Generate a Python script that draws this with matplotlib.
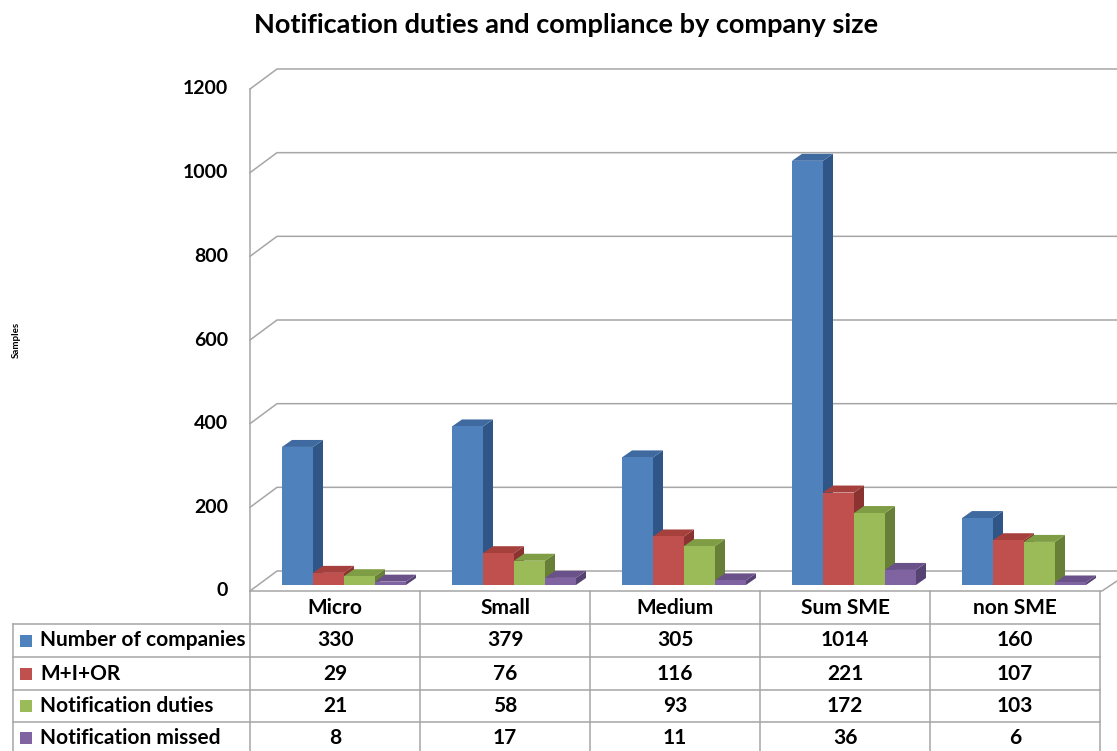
import matplotlib.pyplot as plt
from matplotlib.patches import Polygon, Rectangle

categories = ['Micro', 'Small', 'Medium', 'Sum SME', 'non SME']
series_names = ['Number of companies', 'M+I+OR', 'Notification duties', 'Notification missed']
companies = [330, 379, 305, 1014, 160]
mior = [29, 76, 116, 221, 107]
duties = [21, 58, 93, 172, 103]
missed = [8, 17, 11, 36, 6]
series = [companies, mior, duties, missed]
yticks = [0, 200, 400, 600, 800, 1000, 1200]

front_c = ['#4F81BD', '#C0504D', '#9BBB59', '#8064A2']
top_c = ['#3F6AA0', '#A5403D', '#7F9D45', '#6A5189']
side_c = ['#2F5686', '#8A3331', '#677F36', '#574274']
grid_c = '#A6A6A6'

plt.rcParams['font.family'] = ['Lato', 'DejaVu Sans']

W, H = 1117, 751
fig = plt.figure(figsize=(W / 100, H / 100), dpi=100)

# pixel overlay for title, table text and table lines
pax = fig.add_axes([0, 0, 1, 1])
pax.set_xlim(0, W)
pax.set_ylim(H, 0)
pax.axis('off')

# data axes: categories along x, samples along y
x0, x1 = 250, 1100
yb, yt = 585, 83
ax = fig.add_axes([x0 / W, 1 - yb / H, (x1 - x0) / W, (yb - yt) / H])
ax.set_xlim(-0.5, len(categories) - 0.5)
ax.set_ylim(0, 1200)
ax.axis('off')
ux = len(categories) / (x1 - x0)
uy = 1200 / (yb - yt)

# walls and gridlines
xl = -0.5
xr = len(categories) - 0.5
for v in yticks:
    ax.plot([xl, xl + 27 * ux, xr + 17 * ux], [v - 6 * uy, v + 14 * uy, v + 14 * uy],
            color=grid_c, lw=1.1, clip_on=False, zorder=1)
    ax.text(xl - 22 * ux, v - 6 * uy, str(v), ha='right', va='center',
            fontsize=14, fontweight='bold', clip_on=False)
ax.plot([xl, xl], [-6 * uy, 1200 - 6 * uy], color=grid_c, lw=1.1, clip_on=False, zorder=1)
# floor front edge and right edge
ax.plot([xl, xr + 2 * ux, xr + 17 * ux], [-6 * uy, -6 * uy, 4 * uy],
        color=grid_c, lw=1.1, clip_on=False, zorder=1)

# 3D bars
bw = 31 * ux
dx, dy = 10 * ux, 7 * uy
for c in range(len(categories)):
    for s, vals in enumerate(series):
        v = vals[c]
        x = c - 0.5 + (32 + 31 * s) * ux
        z = 10 + c * 4 + s
        ax.add_patch(Polygon([(x + bw, 0), (x + bw + dx, dy), (x + bw + dx, v + dy), (x + bw, v)],
                             closed=True, fc=side_c[s], ec='none', zorder=z, clip_on=False))
        ax.add_patch(Polygon([(x, v), (x + bw, v), (x + bw + dx, v + dy), (x + dx, v + dy)],
                             closed=True, fc=top_c[s], ec='none', zorder=z, clip_on=False))
        ax.add_patch(Rectangle((x, 0), bw, v, fc=front_c[s], ec='none', zorder=z, clip_on=False))

# title and axis label
pax.text(566, 25, 'Notification duties and compliance by company size', ha='center', va='center',
         fontsize=19.5, fontweight='bold')
pax.text(16, 340, 'Samples', ha='center', va='center', rotation=90, fontsize=7, fontweight='bold')

# data table
col_x = [250, 420, 590, 760, 930, 1100]
row_y = [591, 624, 657, 690, 722, 760]
lk = dict(color=grid_c, lw=1.1)
for xx in col_x:
    pax.plot([xx, xx], [row_y[0], H + 5], **lk)
pax.plot([13, 13], [row_y[1], H + 5], **lk)
for yy in row_y[1:5]:
    pax.plot([13, col_x[-1]], [yy, yy], **lk)
for c, name in enumerate(categories):
    cx = (col_x[c] + col_x[c + 1]) / 2
    pax.text(cx, (row_y[0] + row_y[1]) / 2 + 1, name, ha='center', va='center',
             fontsize=15, fontweight='bold')
    for s, vals in enumerate(series):
        cy = (row_y[s + 1] + min(row_y[s + 2], 753)) / 2
        pax.text(cx, cy, str(vals[c]), ha='center', va='center', fontsize=15, fontweight='bold')
for s, name in enumerate(series_names):
    cy = (row_y[s + 1] + min(row_y[s + 2], 753)) / 2
    pax.add_patch(Rectangle((20, cy - 6), 12, 12, fc=front_c[s], ec='none'))
    pax.text(40, cy, name, ha='left', va='center', fontsize=15, fontweight='bold')

fig.savefig('out.png', dpi=100)
